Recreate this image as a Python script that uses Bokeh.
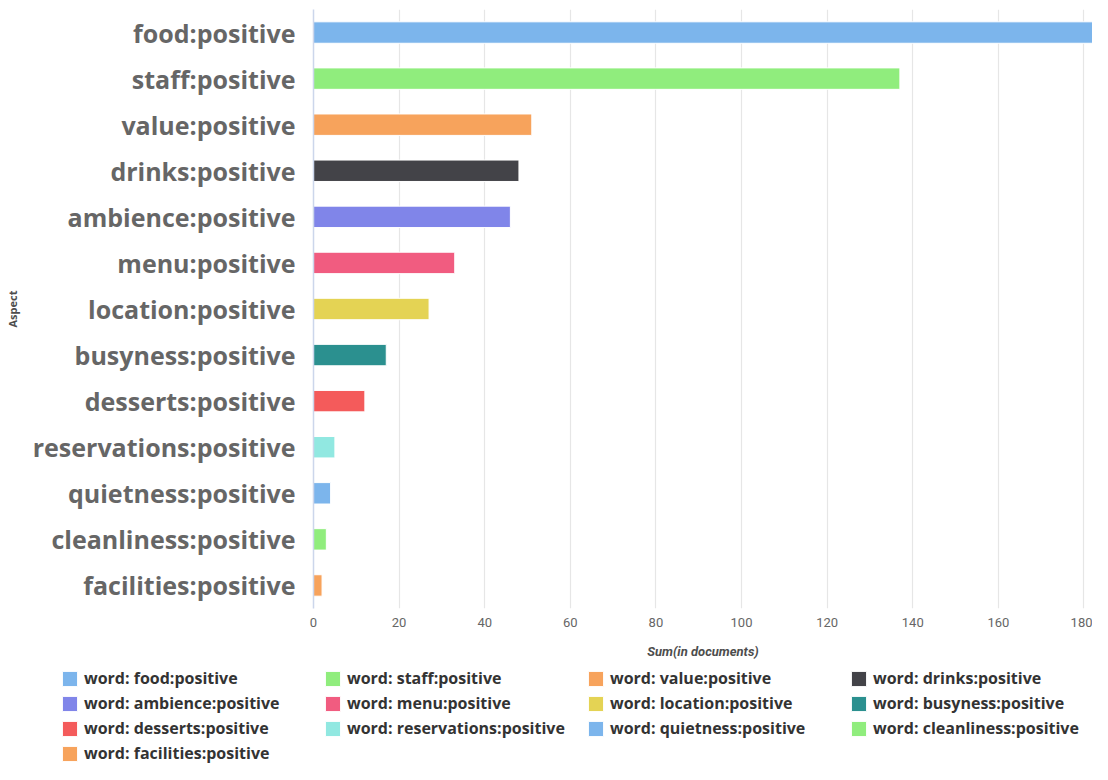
from bokeh.plotting import figure
from bokeh.layouts import column
from bokeh.models import ColumnDataSource, FactorRange, Range1d, Legend, LegendItem, FixedTicker
from bokeh.embed import file_html
from bokeh.resources import INLINE

aspects = ["food:positive", "staff:positive", "value:positive", "drinks:positive",
           "ambience:positive", "menu:positive", "location:positive", "busyness:positive",
           "desserts:positive", "reservations:positive", "quietness:positive",
           "cleanliness:positive", "facilities:positive"]
counts = [190, 137, 51, 48, 46, 33, 27, 17, 12, 5, 4, 3, 2]
colors = ["#7cb5ec", "#90ed7d", "#f7a35c", "#434348", "#8085e9", "#f15c80", "#e4d354",
          "#2b908f", "#f45b5b", "#91e8e1", "#7cb5ec", "#90ed7d", "#f7a35c"]
legend_labels = ["word: " + a for a in aspects]
x_ticks = [0, 20, 40, 60, 80, 100, 120, 140, 160, 180]

src = ColumnDataSource(dict(aspect=aspects, count=counts, color=colors, label=legend_labels))

W = 1092
p = figure(width=W, height=664,
           y_range=FactorRange(factors=list(reversed(aspects))),
           x_range=Range1d(0, 182),
           output_backend="svg", toolbar_location=None,
           min_border_left=313, min_border_right=0, min_border_top=9, min_border_bottom=56)
p.outline_line_color = None
p.frame_align = False

r = p.hbar(y="aspect", left=0, right="count", height=0.465, fill_color="color",
           line_color="white", line_width=1, source=src)

p.ygrid.grid_line_color = None
p.xgrid.grid_line_color = "#e6e6e6"
p.xgrid.grid_line_width = 1.2
p.xgrid.ticker = FixedTicker(ticks=x_ticks)

xa = p.xaxis[0]
xa.ticker = FixedTicker(ticks=x_ticks)
xa.axis_line_color = None
xa.major_tick_line_color = None
xa.minor_tick_line_color = None
xa.major_label_standoff = 3
xa.major_label_text_font = "Roboto"
xa.major_label_text_font_size = "13px"
xa.major_label_text_color = "#666666"
xa.axis_label = "Sum(in documents)"
xa.axis_label_text_font = "Roboto"
xa.axis_label_text_font_style = "bold italic"
xa.axis_label_text_font_size = "13px"
xa.axis_label_text_color = "#4d4d4d"
xa.axis_label_standoff = 14

ya = p.yaxis[0]
ya.axis_line_color = "#ccd6eb"
ya.axis_line_width = 1.5
ya.major_tick_line_color = None
ya.minor_tick_line_color = None
ya.major_label_standoff = 12
ya.major_label_text_font = "Open Sans"
ya.major_label_text_font_style = "bold"
ya.major_label_text_font_size = "25px"
ya.major_label_text_color = "#666666"
ya.axis_label = "Aspect"
ya.axis_label_text_font = "Open Sans"
ya.axis_label_text_font_style = "bold"
ya.axis_label_text_font_size = "11px"
ya.axis_label_text_color = "#4d4d4d"
ya.axis_label_standoff = 10

# legend figure (same data, bars kept outside its visible x range)
q = figure(width=W, height=100,
           y_range=FactorRange(factors=list(reversed(aspects))),
           x_range=Range1d(-10, -5),
           x_axis_type=None, y_axis_type=None,
           output_backend="svg", toolbar_location=None,
           min_border_left=0, min_border_right=0, min_border_top=0, min_border_bottom=0)
q.outline_line_color = None
q.frame_align = False
q.xgrid.grid_line_color = None
q.ygrid.grid_line_color = None
rq = q.hbar(y="aspect", left=0, right="count", height=0.465, fill_color="color",
            line_color="white", line_width=1, source=src)

items = [LegendItem(label=lab, renderers=[rq], index=i) for i, lab in enumerate(legend_labels)]
legend = Legend(items=items, ncols=4, orientation="horizontal",
                location=(60, 0),
                glyph_width=19, glyph_height=19, label_standoff=5,
                label_width=236, label_height=20, spacing=3, padding=0, margin=0,
                label_text_font="Open Sans", label_text_font_style="bold",
                label_text_font_size="16px", label_text_color="#333333",
                border_line_color=None, background_fill_alpha=0)
q.add_layout(legend, "center")

layout = column(p, q, spacing=0)
open("out.html", "w").write(file_html(layout, INLINE))
